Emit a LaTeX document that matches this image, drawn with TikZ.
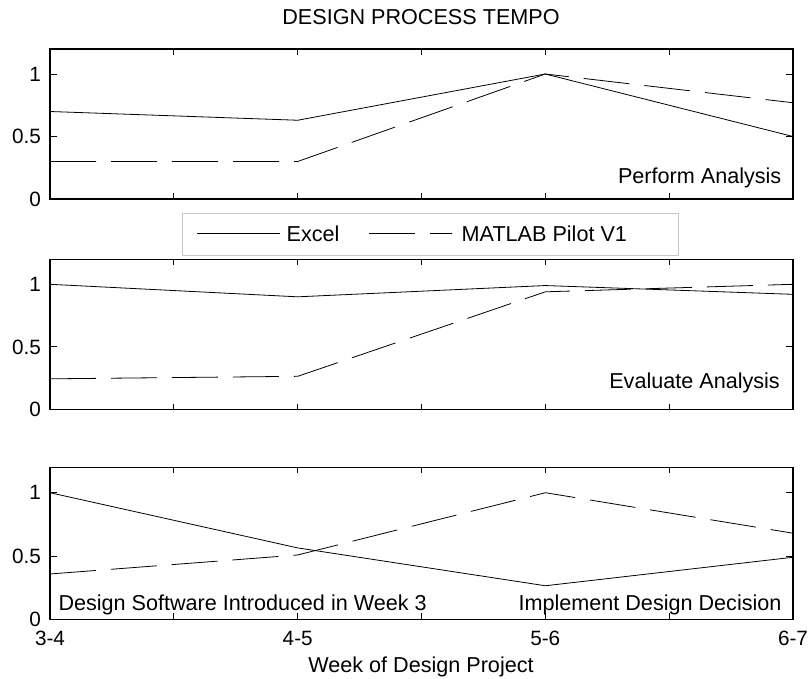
\documentclass[tikz,border=0pt]{standalone}
\usepackage{fontspec}
\setmainfont{Liberation Sans}
\tikzset{
  axisline/.style={line width=1.1pt, black},
  tickline/.style={line width=0.9pt, black},
  dataline/.style={line width=0.8pt, black, line join=round},
  dashline/.style={dataline, dash pattern=on 46pt off 15pt},
  legendbox/.style={draw=black!22, line width=1pt, fill=white},
  lbl/.style={font=\fontsize{21.6}{24}\selectfont, inner sep=0pt},
  ticklbl/.style={font=\fontsize{20.7}{23}\selectfont, inner sep=0pt},
}
\newcommand{\panelframe}[1]{%
  \draw[axisline] (0,0) rectangle (3,1.2);
  \foreach \t in {0.5,1,1.5,2,2.5}{
    \draw[tickline] (\t,0) -- ++(0pt,6pt);
    \draw[tickline] (\t,1.2) -- ++(0pt,-6pt);
  }
  \foreach \v/\l/\n in {0/0/a,0.5/0.5/b,1/1/c}{
    \draw[tickline] (0,\v) -- ++(7pt,0pt);
    \draw[tickline] (3,\v) -- ++(-7pt,0pt);
    \node[ticklbl, anchor=east] (#1y\n) at ([xshift=-9pt]0,\v) {\l};
  }
}
\begin{document}
\begin{tikzpicture}[x=1pt,y=-1pt]
\useasboundingbox (0,0) rectangle (809,679);

\node[lbl, anchor=base] (title) at (421,25) {DESIGN PROCESS TEMPO};

% Panel 1
\begin{scope}[shift={(50,199)}, x=247.67pt, y=125pt]
  \panelframe{pa}
  \draw[dataline] (0,0.70) -- (1,0.63) -- (2,1.0) -- (3,0.50);
  \draw[dashline] (0,0.30) -- (1,0.30) -- (2,1.0) -- (3,0.77);
\end{scope}
\node[lbl, anchor=base east] (perf) at (781.5,183.5) {Perform Analysis};

% Panel 2
\begin{scope}[shift={(50,409.5)}, x=247.67pt, y=125.2pt]
  \panelframe{pb}
  \draw[dataline] (0,1.0) -- (1,0.90) -- (2,0.99) -- (3,0.92);
  \draw[dashline] (0,0.245) -- (1,0.265) -- (2,0.94) -- (3,1.0);
\end{scope}
\node[lbl, anchor=base east] (eval) at (780,388.3) {Evaluate Analysis};

% Panel 3
\begin{scope}[shift={(50,619.3)}, x=247.67pt, y=126.6pt]
  \panelframe{pc}
  \draw[dataline] (0,1.0) -- (1,0.564) -- (2,0.265) -- (3,0.49);
  \draw[dashline] (0,0.358) -- (1,0.508) -- (2,1.0) -- (3,0.68);
\end{scope}
\node[lbl, anchor=base west] (soft) at (58.3,610) {Design Software Introduced in Week 3};
\node[lbl, anchor=base east] (impl) at (781.7,610) {Implement Design Decision};

% x tick labels
\node[ticklbl, anchor=base] (xa) at (50,645) {3-4};
\node[ticklbl, anchor=base] (xb) at (297.7,645) {4-5};
\node[ticklbl, anchor=base] (xc) at (545.3,645) {5-6};
\node[ticklbl, anchor=base] (xd) at (793,645) {6-7};
\node[lbl, anchor=base] (xlabel) at (421,672.3) {Week of Design Project};

% legend
\draw[legendbox] (182,214) rectangle (678,256);
\coordinate (la1) at (197,233.5);
\coordinate (la2) at (280,233.5);
\coordinate (lb1) at (369,233.5);
\coordinate (lb2) at (452,233.5);
\draw[dataline] (la1) -- (la2);
\draw[dashline] (lb1) -- (lb2);
\node[lbl, anchor=base west] (legA) at (286.5,242) {Excel};
\node[lbl, anchor=base west] (legB) at (461.5,242) {MATLAB Pilot V1};
\end{tikzpicture}
\end{document}
